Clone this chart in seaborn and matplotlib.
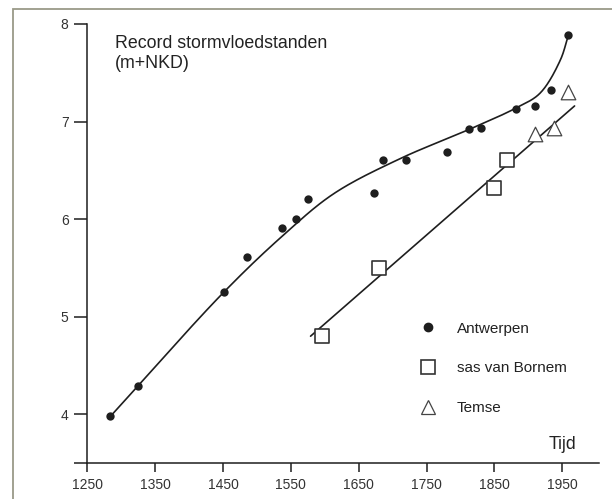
import numpy as np
import pandas as pd
import matplotlib
matplotlib.use("Agg")
import matplotlib.pyplot as plt
from matplotlib.patches import Rectangle
from matplotlib.lines import Line2D
import seaborn as sns

# Record storm-surge levels (m + NKD)
antwerpen_year = [1283, 1325, 1452, 1485, 1537, 1558, 1575, 1672, 1686, 1720,
                  1780, 1812, 1830, 1882, 1909, 1934, 1958]
antwerpen_level = [3.98, 4.29, 5.25, 5.61, 5.91, 6.00, 6.21, 6.27, 6.61, 6.61,
                   6.69, 6.92, 6.93, 7.13, 7.16, 7.32, 7.89]

bornem_year = [1596, 1680, 1850, 1869]
bornem_level = [4.80, 5.50, 6.32, 6.61]

temse_year = [1909, 1937, 1958]
temse_level = [6.87, 6.93, 7.30]

# Hand-fitted trend for Antwerpen (knots of a smooth curve)
antw_trend_year = [1283, 1451, 1538, 1613, 1711, 1813, 1882, 1917, 1947, 1959]
antw_trend_level = [3.97, 5.25, 5.83, 6.26, 6.62, 6.92, 7.14, 7.29, 7.63, 7.89]

# Straight trend through the Bornem/Temse levels
river_trend_year = [1579, 1968]
river_trend_level = [4.80, 7.16]

x_ticks = [1250, 1350, 1450, 1550, 1650, 1750, 1850, 1950]
y_ticks = [3.5, 4, 5, 6, 7, 8]
y_tick_labels = ["", "4", "5", "6", "7", "8"]


def centripetal_spline(xs, ys, yscale, n=30):
    """Centripetal Catmull-Rom curve through the knots (level axis rescaled)."""
    p = np.column_stack([xs, np.asarray(ys) * yscale]).astype(float)
    p = np.vstack([2 * p[0] - p[1], p, 2 * p[-1] - p[-2]])
    out = []
    for i in range(1, len(p) - 2):
        P0, P1, P2, P3 = p[i - 1], p[i], p[i + 1], p[i + 2]
        t0 = 0.0
        t1 = t0 + np.linalg.norm(P1 - P0) ** 0.5
        t2 = t1 + np.linalg.norm(P2 - P1) ** 0.5
        t3 = t2 + np.linalg.norm(P3 - P2) ** 0.5
        t = np.linspace(t1, t2, n, endpoint=False)[:, None]
        A1 = (t1 - t) / (t1 - t0) * P0 + (t - t0) / (t1 - t0) * P1
        A2 = (t2 - t) / (t2 - t1) * P1 + (t - t1) / (t2 - t1) * P2
        A3 = (t3 - t) / (t3 - t2) * P2 + (t - t2) / (t3 - t2) * P3
        B1 = (t2 - t) / (t2 - t0) * A1 + (t - t0) / (t2 - t0) * A2
        B2 = (t3 - t) / (t3 - t1) * A2 + (t - t1) / (t3 - t1) * A3
        C = (t2 - t) / (t2 - t1) * B1 + (t - t1) / (t2 - t1) * B2
        out.append(C)
    out.append(p[-2][None, :])
    out = np.vstack(out)
    return out[:, 0], out[:, 1] / yscale


sns.set_style("white")
plt.rcParams["font.family"] = ["Liberation Sans", "DejaVu Sans"]

ink = "#1e1e1e"
fig = plt.figure(figsize=(6.12, 4.99), dpi=100)
ax = fig.add_axes([87.3 / 612, 1 - 463 / 499, (599 - 87.3) / 612, (463 - 24) / 499])

# Smooth and straight trend lines
cx, cy = centripetal_spline(antw_trend_year, antw_trend_level, yscale=97.5 / 0.679)
trend_a = pd.DataFrame({"jaar": cx, "stand": cy})
sns.lineplot(data=trend_a, x="jaar", y="stand", sort=False, ax=ax,
             color=ink, lw=1.2, estimator=None)
trend_b = pd.DataFrame({"jaar": river_trend_year, "stand": river_trend_level})
sns.lineplot(data=trend_b, x="jaar", y="stand", sort=False, ax=ax,
             color=ink, lw=1.2, estimator=None)

# Observations
df_a = pd.DataFrame({"jaar": antwerpen_year, "stand": antwerpen_level})
df_b = pd.DataFrame({"jaar": bornem_year, "stand": bornem_level})
df_t = pd.DataFrame({"jaar": temse_year, "stand": temse_level})
sns.scatterplot(data=df_a, x="jaar", y="stand", ax=ax, marker="o", s=36,
                color=ink, edgecolor=ink, linewidth=0, zorder=3)
sns.scatterplot(data=df_b, x="jaar", y="stand", ax=ax, marker="s", s=110,
                facecolor="white", edgecolor="#333333", linewidth=1.2, zorder=3)
sns.scatterplot(data=df_t, x="jaar", y="stand", ax=ax, marker="^", s=110,
                facecolor="white", edgecolor="#444444", linewidth=0.9, zorder=3)

ax.set_xlim(1250, 2004)
ax.set_ylim(3.5, 8)
ax.set_xticks(x_ticks)
ax.set_yticks(y_ticks)
ax.set_yticklabels(y_tick_labels)
ax.set_xlabel("")
ax.set_ylabel("")
for s in ["top", "right"]:
    ax.spines[s].set_visible(False)
for s in ["left", "bottom"]:
    ax.spines[s].set_color(ink)
    ax.spines[s].set_linewidth(1.1)
ax.tick_params(axis="y", direction="out", length=9.5, width=1.1, color=ink,
               labelsize=10, labelcolor="#333333", pad=4, left=True)
ax.tick_params(axis="x", direction="out", length=6.5, width=1.1, color=ink,
               labelsize=10, labelcolor="#333333", pad=4, bottom=True)
ax.patch.set_alpha(0)

# Legend
handles = [
    Line2D([], [], ls="none", marker="o", ms=6, color=ink, mec=ink),
    Line2D([], [], ls="none", marker="s", ms=10, mfc="white", mec="#333333", mew=1.2),
    Line2D([], [], ls="none", marker="^", ms=10, mfc="white", mec="#444444", mew=0.9),
]
leg = ax.legend(handles, ["Antwerpen", "sas van Bornem", "Temse"],
                loc="upper left",
                bbox_to_anchor=((418.8 - 87.3) / 511.7, (463 - 321.5) / 439),
                frameon=False, fontsize=11, labelspacing=1.7, handletextpad=1.27,
                handlelength=1.2, borderpad=0, borderaxespad=0)
for t in leg.get_texts():
    t.set_color("#222222")

# Titles
fig.text(115 / 612, 1 - 47.7 / 499, "Record stormvloedstanden", fontsize=12.8,
         color="#222222", va="baseline", ha="left")
fig.text(115 / 612, 1 - 67.7 / 499, "(m+NKD)", fontsize=12.8,
         color="#222222", va="baseline", ha="left")
fig.text(576 / 612, 1 - 449.3 / 499, "Tijd", fontsize=12.8,
         color="#222222", va="baseline", ha="right")

# Outer frame
fig.patches.append(Rectangle((12.7 / 612, -0.5), 2, 1.5 - 8.5 / 499,
                             transform=fig.transFigure, fill=False,
                             edgecolor="#9a9a88", lw=1.3, zorder=0))

fig.savefig("out.png", dpi=100)
